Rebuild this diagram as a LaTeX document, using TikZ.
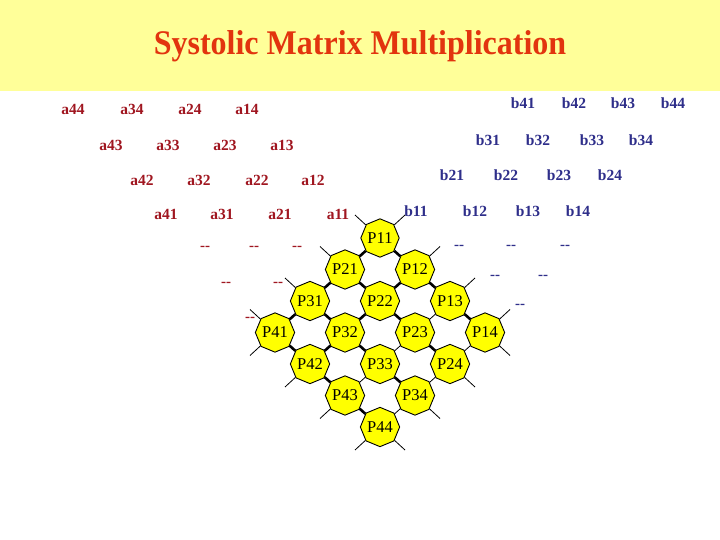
\documentclass[tikz,border=0pt]{standalone}
\usepackage{fontspec}
\setmainfont{Liberation Serif}
\usetikzlibrary{shapes.geometric}
\definecolor{band}{RGB}{255,255,153}
\definecolor{titlered}{RGB}{226,52,14}
\definecolor{ared}{RGB}{160,22,32}
\definecolor{bblue}{RGB}{46,46,138}
\definecolor{octyellow}{RGB}{255,255,0}
\tikzset{
  proc/.style={regular polygon, regular polygon sides=8, shape border rotate=22.5,
    minimum size=37pt, inner sep=0pt, fill=octyellow, draw=black, line width=0.9pt,
    font=\fontsize{16.5}{17}\selectfont},
  alab/.style={text=ared, font=\fontsize{15.5}{16}\selectfont\bfseries, inner sep=0pt},
  blab/.style={text=bblue, font=\fontsize{15.5}{16}\selectfont\bfseries, inner sep=0pt},
  adash/.style={text=ared, font=\fontsize{15}{16}\selectfont\bfseries, inner sep=0pt},
  bdash/.style={text=bblue, font=\fontsize{15}{16}\selectfont\bfseries, inner sep=0pt},
  thicklink/.style={line width=2.6pt, black},
  thinlink/.style={line width=0.8pt, black},
}
\begin{document}
\begin{tikzpicture}[x=1pt,y=-1pt]
\useasboundingbox (0,0) rectangle (720,540);
\fill[white] (0,0) rectangle (720,540);
\fill[band] (0,0) rectangle (720,91);
% title
\node[text=titlered, font=\fontsize{32}{34}\selectfont\bfseries, yscale=1.08] (title) at (360,46) {Systolic Matrix Multiplication};
% a labels
\node[alab] (a44) at (73,109) {a44};
\node[alab] (a34) at (132,109) {a34};
\node[alab] (a24) at (190,109) {a24};
\node[alab] (a14) at (247,109) {a14};
\node[alab] (a43) at (111,145) {a43};
\node[alab] (a33) at (168,145) {a33};
\node[alab] (a23) at (225,145) {a23};
\node[alab] (a13) at (282,145) {a13};
\node[alab] (a42) at (142,180) {a42};
\node[alab] (a32) at (199,180) {a32};
\node[alab] (a22) at (257,180) {a22};
\node[alab] (a12) at (313,180) {a12};
\node[alab] (a41) at (166,214) {a41};
\node[alab] (a31) at (222,214) {a31};
\node[alab] (a21) at (280,214) {a21};
\node[alab] (a11) at (338,214) {a11};
% b labels
\node[blab] (b41) at (523,103) {b41};
\node[blab] (b42) at (574,103) {b42};
\node[blab] (b43) at (623,103) {b43};
\node[blab] (b44) at (673,103) {b44};
\node[blab] (b31) at (488,140) {b31};
\node[blab] (b32) at (538,140) {b32};
\node[blab] (b33) at (592,140) {b33};
\node[blab] (b34) at (641,140) {b34};
\node[blab] (b21) at (452,175) {b21};
\node[blab] (b22) at (506,175) {b22};
\node[blab] (b23) at (559,175) {b23};
\node[blab] (b24) at (610,175) {b24};
\node[blab] (b11) at (416,211) {b11};
\node[blab] (b12) at (475,211) {b12};
\node[blab] (b13) at (528,211) {b13};
\node[blab] (b14) at (578,211) {b14};
% dashes
\node[adash] (ad1) at (205,248) {-{}-};
\node[adash] (ad2) at (254,248) {-{}-};
\node[adash] (ad3) at (297,248) {-{}-};
\node[adash] (ad4) at (226,284) {-{}-};
\node[adash] (ad5) at (278,284) {-{}-};
\node[adash] (ad6) at (250,319) {-{}-};
\node[bdash] (bd1) at (459,247) {-{}-};
\node[bdash] (bd2) at (511,247) {-{}-};
\node[bdash] (bd3) at (565,247) {-{}-};
\node[bdash] (bd4) at (495,277) {-{}-};
\node[bdash] (bd5) at (543,277) {-{}-};
\node[bdash] (bd6) at (520,306) {-{}-};
% processors
\foreach \i in {1,...,4}{
  \foreach \j in {1,...,4}{
    \pgfmathsetmacro\px{380+35*(\j-\i)}
    \pgfmathsetmacro\py{238+31.5*(\i+\j-2)}
    \node[proc] (P\i\j) at (\px,\py) {P\i\j};
  }
}
% links along rows (down-right)
\foreach \i in {1,...,4}{
  \foreach \j in {1,2,3}{
    \pgfmathtruncatemacro\jn{\j+1}
    \draw[thicklink] (P\i\j) -- (P\i\jn);
  }
}
% links along columns (down-left)
\foreach \i in {1,2,3}{
  \pgfmathtruncatemacro\inx{\i+1}
  \foreach \j in {1,2}{ \draw[thicklink] (P\i\j) -- (P\inx\j); }
  \foreach \j in {3,4}{ \draw[thinlink] (P\i\j) -- (P\inx\j); }
}
% free stubs
\foreach \i in {1,...,4}{
  \pgfmathsetmacro\px{380+35*(1-\i)}
  \pgfmathsetmacro\py{238+31.5*(\i-1)}
  \coordinate (ul\i) at (\px-25,\py-23);
  \draw[thinlink] (P\i1) -- (ul\i);
  \pgfmathsetmacro\qx{380+35*(\i-1)}
  \coordinate (ur\i) at (\qx+25,\py-23);
  \draw[thinlink] (P1\i) -- (ur\i);
  \pgfmathsetmacro\rx{380+35*(\i-4)}
  \pgfmathsetmacro\ry{238+31.5*(\i+2)}
  \coordinate (ll\i) at (\rx-25,\ry+23);
  \draw[thinlink] (P4\i) -- (ll\i);
  \pgfmathsetmacro\sx{380+35*(4-\i)}
  \coordinate (lr\i) at (\sx+25,\ry+23);
  \draw[thinlink] (P\i4) -- (lr\i);
}
\end{tikzpicture}
\end{document}
